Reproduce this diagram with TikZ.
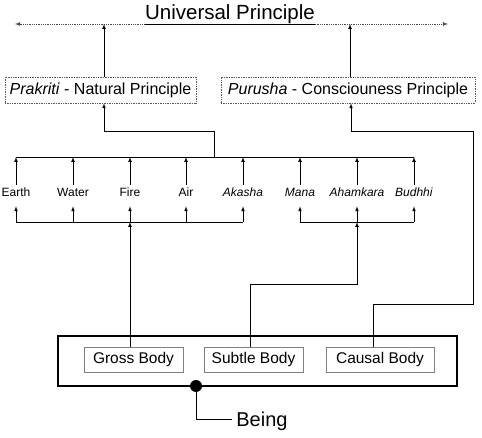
\documentclass[tikz,border=0pt]{standalone}
\usepackage{fontspec}
\setmainfont{Liberation Sans}
\usetikzlibrary{arrows}
\usetikzlibrary{positioning}

\begin{document}
\begin{tikzpicture}[x=1pt, y=-1pt, >=latex, line width=0.7pt,
	element/.style={font=\fontsize{12}{14}\selectfont, inner xsep=1pt, inner ysep=3pt, text height=9pt, text depth=6pt},
	principle/.style={draw, densely dotted, gray!70!black, text=black, font=\fontsize{16}{19}\selectfont, minimum height=26pt, inner sep=0pt},
	body/.style={draw, gray, line width=0.6pt, text=black, font=\fontsize{15.5}{18}\selectfont, minimum height=25pt, inner sep=0pt}]
	\useasboundingbox (0,0) rectangle (482,438);
	% universal principle
	\node[font=\fontsize{20.5}{24}\selectfont, inner sep=0pt, anchor=base] (univ) at (230,20) {Universal Principle};
	\coordinate (uleft) at (15,24);
	\coordinate (uright) at (448,24);
	\draw[<->, densely dotted, gray!60!black, line width=0.8pt] (uleft) -- (uright);
	\draw (univ.south west) -- (univ.south east);
	% principles
	\node[principle, minimum width=191pt] (prakriti) at (100.5,90) {\textit{Prakriti} - Natural Principle};
	\node[principle, minimum width=254pt] (purusha) at (348,90) {\textit{Purusha} - Consciouness Principle};
	\draw[->] ([xshift=3.5pt]prakriti.north) -- ([xshift=3.5pt]prakriti.north |- uleft);
	\draw[->] ([xshift=2pt]purusha.north) -- ([xshift=2pt]purusha.north |- uleft);
	% elements
	\node[element] (earth) at (16,195.5) {Earth};
	\node[element] (water) at (73,195.5) {Water};
	\node[element] (fire) at (130,195.5) {Fire};
	\node[element] (air) at (186,195.5) {Air};
	\node[element] (akasha) at (243,195.5) {\textit{Akasha}};
	\node[element] (mana) at (300,195.5) {\textit{Mana}};
	\node[element] (ahamkara) at (357,195.5) {\textit{Ahamkara}};
	\node[element] (budhhi) at (414,195.5) {\textit{Budhhi}};
	\coordinate (top) at (214,157);
	\draw (earth |- top) -- (budhhi |- top);
	\draw[->] (earth) -- (earth |- top);
	\draw[->] (water) -- (water |- top);
	\draw[->] (fire) -- (fire |- top);
	\draw[->] (air) -- (air |- top);
	\draw[->] (akasha) -- (akasha |- top);
	\draw[->] (mana) -- (mana |- top);
	\draw[->] (ahamkara) -- (ahamkara |- top);
	\draw[->] (budhhi) -- (budhhi |- top);
	\draw[->] (top) -- ++(0,-26) -| ([xshift=3.5pt]prakriti.south);
	\coordinate (low) at (0,222);
	\draw (earth |- low) -- (akasha |- low);
	\draw (mana |- low) -- (budhhi |- low);
	\draw[->] (earth |- low) -- (earth);
	\draw[->] (water |- low) -- (water);
	\draw[->] (fire |- low) -- (fire);
	\draw[->] (air |- low) -- (air);
	\draw[->] (akasha |- low) -- (akasha);
	\draw[->] (mana |- low) -- (mana);
	\draw[->] (ahamkara |- low) -- (ahamkara);
	\draw[->] (budhhi |- low) -- (budhhi);
	% bodies
	\node[draw, line width=1.1pt, minimum width=399pt, minimum height=50pt, inner sep=0pt] (bodies) at (257.5,361) {};
	\node[body, minimum width=99pt] (gross) at (133.5,359.5) {Gross Body};
	\node[body, minimum width=99pt] (subtle) at (253.5,359.5) {Subtle Body};
	\node[body, minimum width=108pt] (causal) at (380,359.5) {Causal Body};
	\draw[->] (gross.north -| fire) -- (fire |- low);
	\draw[->] ([xshift=-3.5pt]subtle.north) -- ++(0,-62) -| (ahamkara |- low);
	\coordinate (pright) at (473,131);
	\draw[->] ([xshift=-7pt]causal.north) -- ++(0,-42) -| (pright) -| ([xshift=3pt]purusha.south);
	% being
	\node[circle, fill, inner sep=0pt, minimum size=12pt] (dot) at (196,386) {};
	\node[font=\fontsize{20}{24}\selectfont, inner sep=4pt, text depth=0pt, anchor=west] (being) at (232,419.5) {Being};
	\draw (dot) |- (being.west);
\end{tikzpicture}
\end{document}
